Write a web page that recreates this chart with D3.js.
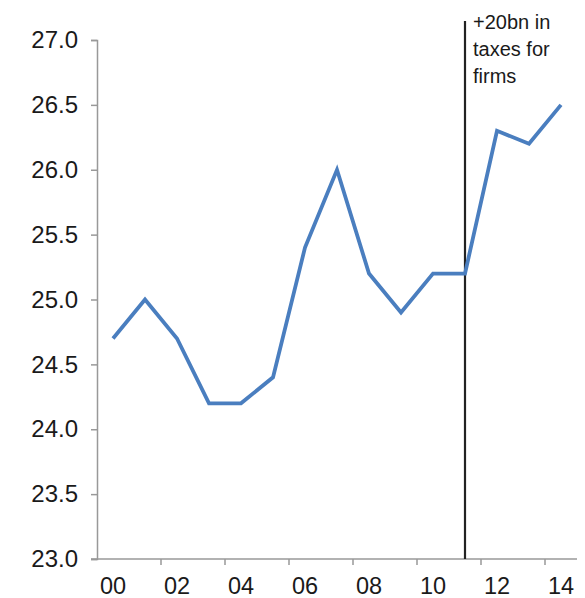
<!DOCTYPE html>
<html><head><meta charset="utf-8">
<script src="https://cdn.jsdelivr.net/npm/d3@7"></script>
<style>body{margin:0;background:#fff}svg{display:block}text{font-family:"Liberation Sans",Arial,sans-serif;fill:#1a1a1a}</style>
</head><body><div id="chart"></div>
<script>
const years = ["00","01","02","03","04","05","06","07","08","09","10","11","12","13","14"];
const values = [24.7,25.0,24.7,24.2,24.2,24.4,25.4,26.0,25.2,24.9,25.2,25.2,26.3,26.2,26.5];
const yTicks = [23.0,23.5,24.0,24.5,25.0,25.5,26.0,26.5,27.0];
const annotationYear = "11";
const annotationLines = ["+20bn in","taxes for","firms"];

(function(){
const W=585,H=598;
const mL=97,mR=577,mT=40,mB=559;
const svg=d3.select("#chart").append("svg").attr("width",W).attr("height",H);
const x=d3.scaleBand().domain(years).range([mL,mR]).padding(0);
const y=d3.scaleLinear().domain([23,27]).range([mB,mT]);
const cx=d=>x(d)+x.bandwidth()/2;

// y axis
const ya=svg.append("g").attr("transform",`translate(${mL},0)`)
  .call(d3.axisLeft(y).tickValues(yTicks).tickFormat(d3.format(".1f")).tickSize(6).tickPadding(13));
ya.select(".domain").attr("stroke","#999").attr("stroke-width",1.5);
ya.selectAll(".tick line").attr("stroke","#999").attr("stroke-width",1.5);
ya.selectAll("text").attr("font-size",24).style("font-family","Liberation Sans, Arial, sans-serif").attr("fill","#1a1a1a");

// x axis
const xg=svg.append("g").attr("transform",`translate(0,${mB})`);
xg.append("line").attr("x1",mL-6).attr("x2",mR).attr("stroke","#999").attr("stroke-width",1.5);
const tickIdx=d3.range(2,years.length,2);
xg.selectAll(".xt").data(tickIdx).join("line").attr("class","xt")
  .attr("x1",i=>x(years[i])).attr("x2",i=>x(years[i])).attr("y1",0).attr("y2",6)
  .attr("stroke","#999").attr("stroke-width",1.5);
xg.selectAll(".xl").data(years.filter((d,i)=>i%2===0)).join("text").attr("class","xl")
  .attr("x",d=>cx(d)).attr("y",35).attr("text-anchor","middle").attr("font-size",23.5).text(d=>d);

// annotation line
const ax=cx(annotationYear);
svg.append("line").attr("x1",ax).attr("x2",ax).attr("y1",21).attr("y2",mB)
  .attr("stroke","#222").attr("stroke-width",2.2);
svg.append("g").selectAll("text").data(annotationLines).join("text")
  .attr("x",ax+8).attr("y",(d,i)=>29+i*27).attr("font-size",20).text(d=>d);

// data line
const line=d3.line().x((d,i)=>cx(years[i])).y(d=>y(d));
svg.append("path").datum(values).attr("d",line).attr("fill","none")
  .attr("stroke","#4a7ebf").attr("stroke-width",3.8).attr("stroke-linejoin","miter");
})();
</script></body></html>
